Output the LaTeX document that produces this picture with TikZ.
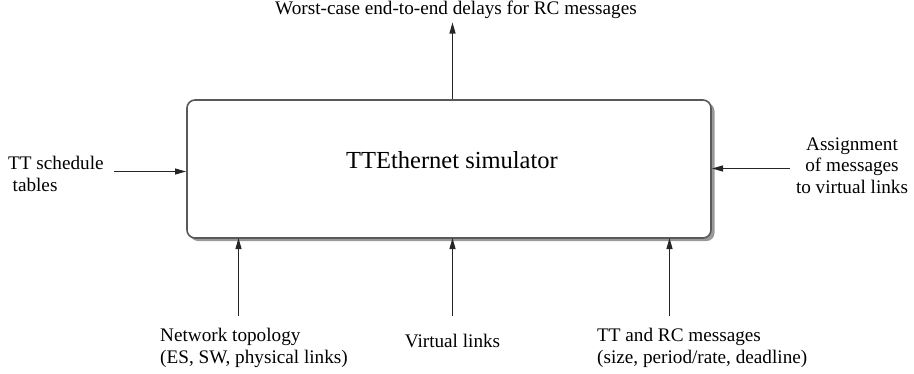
\documentclass[tikz,border=0pt]{standalone}
\usepackage{fontspec}
\setmainfont{Liberation Serif}
\usetikzlibrary{arrows.meta}
\begin{document}
\begin{tikzpicture}[x=1pt,y=-1pt,
  label/.style={inner sep=0pt,font=\fontsize{19.2}{21.5}\selectfont},
  flow/.style={line width=1.1pt,draw=black!85,-{Triangle[length=11pt,width=6pt]}},
  simbox/.style={draw=black!65,line width=1.6pt,rounded corners=8pt}]
\useasboundingbox (0,0) rectangle (914,373);
% simulator block with its drop shadow
\fill[rounded corners=8pt,black!40] (190,103) rectangle (714.5,241);
\fill[rounded corners=8pt,white] (187,100) rectangle (711,238);
\draw[simbox] (187,100) rectangle (711,238);
\coordinate (boxN) at (452.5,99);
\node[inner sep=0pt,font=\fontsize{24.5}{28}\selectfont,anchor=base] (sim) at (452,168) {TTEthernet simulator};
% inputs and outputs (multi-line labels are placed by their last baseline)
\node[label,anchor=base] (out) at (456,14) {Worst-case end-to-end delays for RC messages};
\node[label,anchor=base west,align=left] (tt) at (8,191) {TT schedule\\\hspace{4.5pt}tables};
\node[label,anchor=base,align=center] (assign) at (852,193) {Assignment\\of messages\\to virtual links};
\node[label,anchor=base west,align=left] (topo) at (160,363) {Network topology\\(ES, SW, physical links)};
\node[label,anchor=base] (vl) at (452.5,347) {Virtual links};
\node[label,anchor=base west,align=left] (msg) at (597,363) {TT and RC messages\\(size, period/rate, deadline)};
% connector ends
\coordinate (topTip) at (452.5,22.5);
\coordinate (ttS) at (114,171.5);
\coordinate (ttE) at (186,171.5);
\coordinate (asS) at (790,168.5);
\coordinate (asE) at (712,168.5);
\coordinate (b1S) at (238.5,316);
\coordinate (b1E) at (238.5,238);
\coordinate (b2S) at (452.5,316);
\coordinate (b2E) at (452.5,238);
\coordinate (b3S) at (669.5,316);
\coordinate (b3E) at (669.5,238);
\draw[flow] (boxN) -- (topTip);
\draw[flow] (ttS) -- (ttE);
\draw[flow] (asS) -- (asE);
\draw[flow] (b1S) -- (b1E);
\draw[flow] (b2S) -- (b2E);
\draw[flow] (b3S) -- (b3E);
\end{tikzpicture}
\end{document}
